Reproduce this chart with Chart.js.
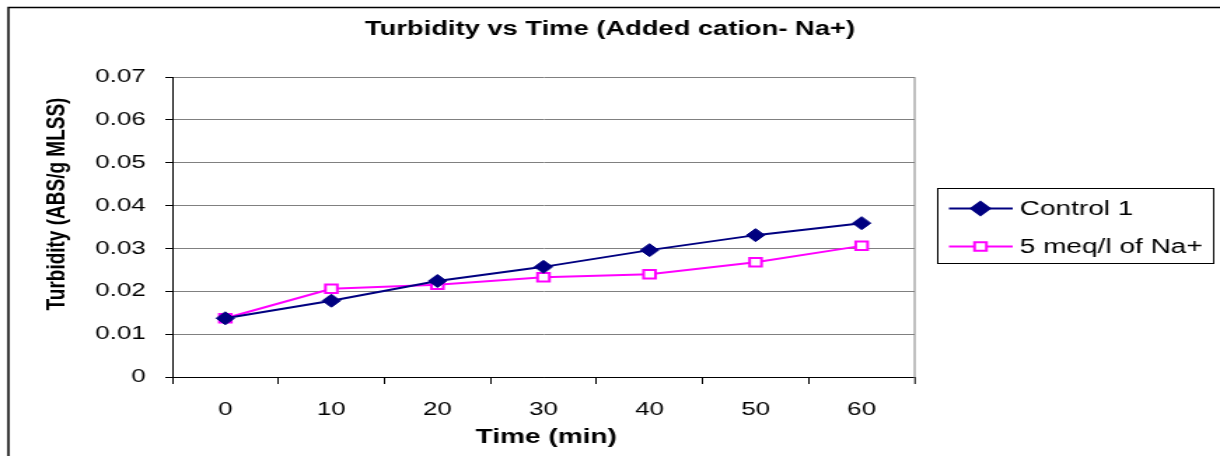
<!DOCTYPE html>
<html>
<head>
<meta charset="utf-8">
<title>Turbidity vs Time</title>
<script src="https://cdn.jsdelivr.net/npm/chart.js@4.4.1/dist/chart.umd.min.js"></script>
<style>
  html, body { margin: 0; padding: 0; background: #fff; overflow: hidden; }
  #turbidityChart { display: block; }
</style>
</head>
<body>
<!-- drawn on a narrower canvas and widened to the page, like the old stretched sheet chart -->
<canvas id="turbidityChart" width="871" height="456" style="width:1220px;height:456px"></canvas>
<script>
const timeLabels = ['0', '10', '20', '30', '40', '50', '60'];
const control1 = [0.0137, 0.0178, 0.0224, 0.0257, 0.0296, 0.0331, 0.0359];
const sodium5 = [0.0137, 0.0206, 0.0215, 0.0233, 0.0240, 0.0268, 0.0306];
const yMin = 0;
const yMax = 0.07;
const yStep = 0.01;

const FONT = 'Arial, "Liberation Sans", sans-serif';

// titles, legend box and outer frame
const decorations = {
  id: 'decorations',
  afterDraw(chart) {
    const ctx = chart.ctx;
    const area = chart.chartArea;
    ctx.save();

    ctx.strokeStyle = '#000';
    ctx.lineWidth = 1.5;
    ctx.beginPath();
    ctx.moveTo(6, 456);
    ctx.lineTo(6, 7.5);
    ctx.lineTo(871, 7.5);
    ctx.stroke();

    // right edge of the plot area
    ctx.strokeStyle = '#808080';
    ctx.lineWidth = 1;
    ctx.beginPath();
    ctx.moveTo(area.right, area.top);
    ctx.lineTo(area.right, area.bottom + 7);
    ctx.stroke();

    ctx.fillStyle = '#000';
    ctx.textAlign = 'center';
    ctx.textBaseline = 'middle';
    ctx.font = `bold 19.5px ${FONT}`;
    ctx.fillText('Turbidity vs Time (Added cation- Na+)', 435.5, 30);

    ctx.font = `bold 20px ${FONT}`;
    ctx.fillText('Time (min)', (area.left + area.right) / 2 + 2, 437);

    ctx.save();
    ctx.translate(41, 204);
    ctx.rotate(-Math.PI / 2);
    ctx.font = `bold 19px ${FONT}`;
    ctx.fillText('Turbidity (ABS/g MLSS)', 0, 0);
    ctx.restore();

    // legend
    ctx.strokeStyle = '#000';
    ctx.lineWidth = 1;
    ctx.fillStyle = '#fff';
    ctx.fillRect(669.5, 188.5, 197, 75);
    ctx.strokeRect(669.5, 188.5, 197, 75);

    chart.data.datasets.forEach((ds, i) => {
      const y = 208.5 + i * 38;
      ctx.strokeStyle = ds.borderColor;
      ctx.lineWidth = 2;
      ctx.beginPath();
      ctx.moveTo(677.5, y);
      ctx.lineTo(723, y);
      ctx.stroke();

      ctx.fillStyle = ds.pointBackgroundColor;
      ctx.strokeStyle = ds.pointBorderColor;
      Chart.helpers.drawPoint(ctx, {
        pointStyle: ds.pointStyle,
        radius: ds.pointRadius,
        rotation: 0,
        borderWidth: ds.pointBorderWidth
      }, 700, y);

      ctx.fillStyle = '#000';
      ctx.textAlign = 'left';
      ctx.font = `20px ${FONT}`;
      ctx.fillText(ds.label, 728, y + 1);
    });

    ctx.restore();
  }
};

new Chart(document.getElementById('turbidityChart'), {
  type: 'line',
  data: {
    labels: timeLabels,
    datasets: [
      {
        label: 'Control 1',
        data: control1,
        borderColor: '#000080',
        borderWidth: 2,
        pointStyle: 'rectRot',
        pointRadius: 6.5,
        pointBackgroundColor: '#000080',
        pointBorderColor: '#000080',
        pointBorderWidth: 1,
        tension: 0
      },
      {
        label: '5 meq/l of Na+',
        data: sodium5,
        borderColor: '#ff00ff',
        borderWidth: 2,
        pointStyle: 'rect',
        pointRadius: 6,
        pointBackgroundColor: '#ffffff',
        pointBorderColor: '#ff00ff',
        pointBorderWidth: 2,
        tension: 0
      }
    ]
  },
  options: {
    responsive: false,
    devicePixelRatio: 1,
    animation: false,
    layout: { padding: { left: 0, right: 218, top: 77, bottom: 0 } },
    plugins: {
      legend: { display: false },
      title: { display: false },
      tooltip: { enabled: false }
    },
    scales: {
      x: {
        type: 'category',
        offset: true,
        afterFit(scale) { scale.height = 79; },
        grid: { offset: true, drawOnChartArea: false, tickLength: 7, tickColor: '#000' },
        border: { color: '#000', width: 1 },
        ticks: {
          color: '#000',
          font: { family: FONT, size: 18.5 },
          padding: 15,
          maxRotation: 0,
          autoSkip: false
        }
      },
      y: {
        min: yMin,
        max: yMax,
        afterFit(scale) { scale.width = 123; },
        grid: {
          color: ctx => (ctx.tick && ctx.tick.value === 0 ? '#000' : '#808080'),
          tickColor: '#000',
          tickLength: 5,
          lineWidth: 1
        },
        border: { color: '#000', width: 1 },
        ticks: {
          stepSize: yStep,
          color: '#000',
          font: { family: FONT, size: 18.5 },
          padding: 14,
          callback: v => (v === 0 ? '0' : v.toFixed(2))
        }
      }
    }
  },
  plugins: [decorations]
});
</script>
</body>
</html>
